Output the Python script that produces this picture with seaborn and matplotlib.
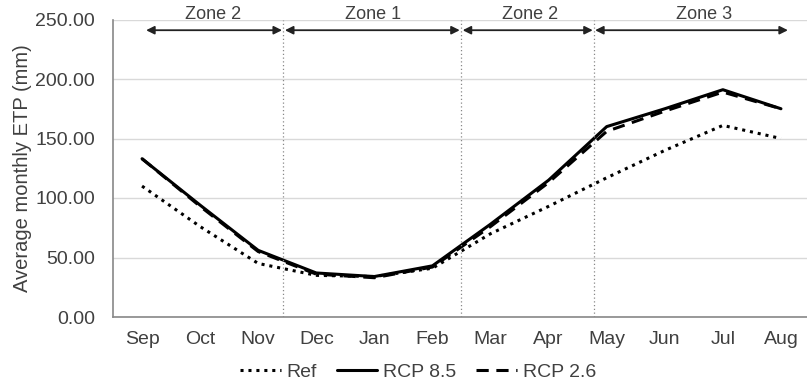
import matplotlib
matplotlib.use("Agg")
import matplotlib.pyplot as plt
import numpy as np
import pandas as pd
import seaborn as sns

# Monthly ETP values (mm)
MONTHS = ["Sep", "Oct", "Nov", "Dec", "Jan", "Feb", "Mar", "Apr", "May", "Jun", "Jul", "Aug"]
REF = [110, 76, 45, 35, 34, 41, 70, 93, 117, 140, 161, 150]
RCP85 = [133, 94, 56, 37, 34, 43, 78, 115, 160, 175, 191, 175]
RCP26 = [133, 93, 55, 36, 33, 42, 76, 113, 156, 173, 189, 175]

# Zone separators (in month-index units) and zone spans
ZONE_BOUNDS = [2.43, 5.49, 7.78]
ZONE_SPANS = [(0.07, 2.41), (2.46, 5.47), (5.52, 7.76), (7.80, 11.12)]
ZONE_LABELS = ["Zone 2", "Zone 1", "Zone 2", "Zone 3"]
ZONE_TEXT_X = [1.22, 3.98, 6.68, 9.67]

Y_TICKS = [0, 50, 100, 150, 200, 250]

TEXT_COLOR = "#404040"

sns.set_theme(style="white")
plt.rcParams["font.family"] = ["Liberation Sans", "DejaVu Sans"]

df = pd.DataFrame({
    "idx": np.tile(np.arange(len(MONTHS)), 3),
    "etp": REF + RCP85 + RCP26,
    "scenario": ["Ref"] * 12 + ["RCP 8.5"] * 12 + ["RCP 2.6"] * 12,
})

fig = plt.figure(figsize=(8.07, 3.86), dpi=100)
ax = fig.add_axes([113 / 807, 69 / 386, 697 / 807, 297.5 / 386])

styles = {
    "Ref": dict(linestyle=(0, (1, 1.6)), linewidth=2.2),
    "RCP 8.5": dict(linestyle="-", linewidth=2.2),
    "RCP 2.6": dict(linestyle=(0, (4, 2.5)), linewidth=2.2),
}
for name in ["Ref", "RCP 8.5", "RCP 2.6"]:
    sub = df[df["scenario"] == name]
    sns.lineplot(data=sub, x="idx", y="etp", ax=ax, color="black", label=name,
                 **styles[name])

ax.set_xlim(-0.5, 11.5)
ax.set_ylim(0, 250)
ax.set_yticks(Y_TICKS)
ax.set_yticklabels([f"{v:.2f}" for v in Y_TICKS])
ax.set_xticks(np.arange(len(MONTHS)))
ax.set_xticklabels(MONTHS)
ax.tick_params(axis="both", labelsize=14, colors=TEXT_COLOR)
ax.tick_params(axis="x", length=5, width=1, color="#888888", direction="in", pad=10)
ax.tick_params(axis="y", length=0, pad=13)
ax.yaxis.grid(True, color="#d9d9d9", linewidth=1)
ax.set_axisbelow(True)
ax.set_xlabel("")
ax.set_ylabel("Average monthly ETP (mm)", fontsize=14.5, color=TEXT_COLOR, labelpad=2)
sns.despine(ax=ax)
for side in ["left", "bottom"]:
    ax.spines[side].set_color("#888888")
    ax.spines[side].set_linewidth(1.2)

# zone separators, arrows and labels
for xb in ZONE_BOUNDS:
    ax.axvline(xb, color="#888888", linestyle=(0, (1, 2)), linewidth=0.9)
for (x0, x1), lab, tx in zip(ZONE_SPANS, ZONE_LABELS, ZONE_TEXT_X):
    ax.annotate("", xy=(x1, 241), xytext=(x0, 241),
                arrowprops=dict(arrowstyle="<|-|>", color="#222222", lw=1.3,
                                mutation_scale=12, shrinkA=0, shrinkB=0))
    ax.text(tx, 254, lab, ha="center", va="center", fontsize=13, color=TEXT_COLOR)

ax.get_legend().remove()
handles, labels = ax.get_legend_handles_labels()
fig.legend(handles, labels, loc="center", bbox_to_anchor=(418 / 807, 14 / 386), ncol=3,
           frameon=False, fontsize=14, handlelength=2.1, columnspacing=1.0,
           handletextpad=0.3, labelcolor=TEXT_COLOR)

fig.savefig("out.png", dpi=100)
